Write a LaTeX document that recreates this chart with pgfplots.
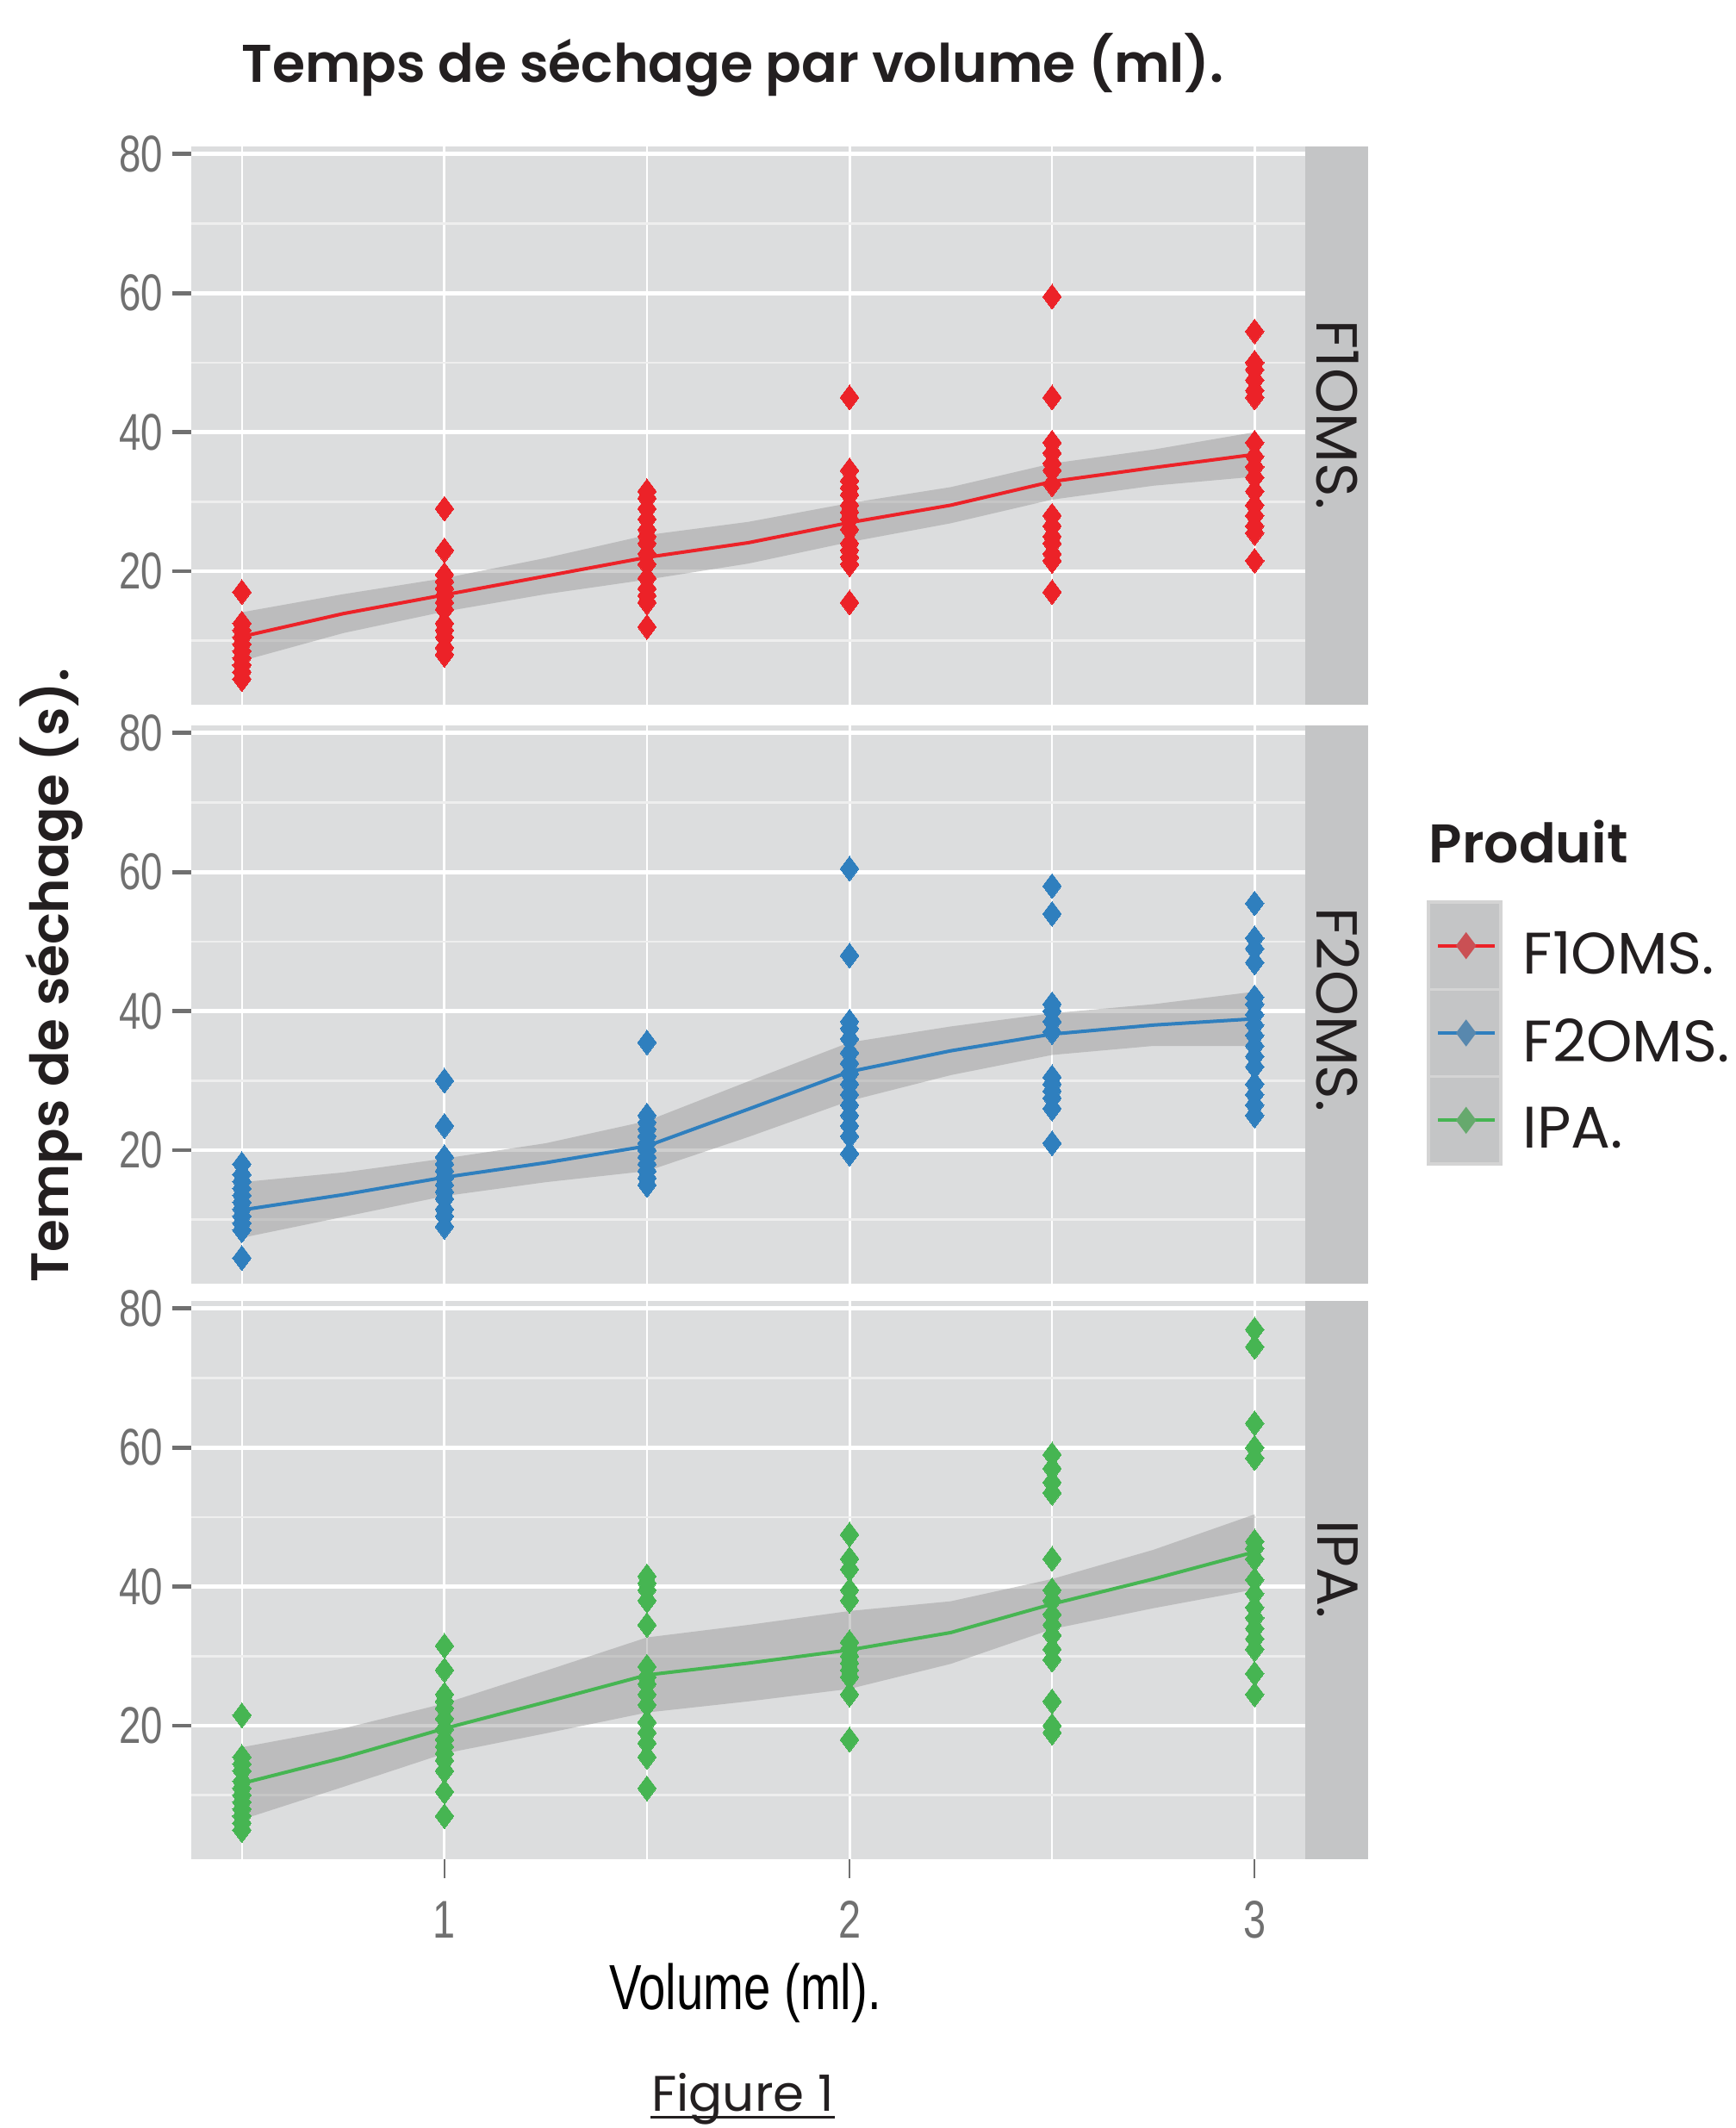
\documentclass[border=0pt]{standalone}
\usepackage{fontspec}
\setmainfont{Poppins}[BoldFont={Poppins SemiBold}]
\newfontfamily\narrowfont[FakeStretch=0.76]{Liberation Sans}
\usepackage{pgfplots}
\pgfplotsset{compat=1.18}
\definecolor{panelbg}{RGB}{220,221,222}
\definecolor{stripbg}{RGB}{196,197,198}
\definecolor{minorgrid}{RGB}{238,238,238}
\definecolor{tickgray}{RGB}{112,112,112}
\definecolor{bandgray}{RGB}{150,150,150}
\definecolor{legedge}{RGB}{212,212,212}
\definecolor{cF1}{RGB}{236,34,40}
\definecolor{cF2}{RGB}{47,127,190}
\definecolor{cIPA}{RGB}{70,181,82}
\definecolor{txt}{RGB}{35,31,32}

\tikzset{striplab/.style={rotate=-90, font=\fontsize{16.8}{16}\selectfont, text=txt, inner sep=0pt}}

\pgfplotsset{
  panel/.style={
    scale only axis, width=323.25pt, height=162pt,
    anchor=north west,
    xmin=0.375, xmax=3.125, ymin=0.8, ymax=81.1,
    axis background/.style={fill=panelbg},
    axis line style={draw=none},
    xtick={1,2,3}, minor xtick={0.5,1.5,2.5},
    ytick={20,40,60,80}, minor ytick={10,30,50,70},
    yticklabels={20,40,60,80},
    xmajorgrids, xminorgrids, ymajorgrids, yminorgrids,
    major x grid style={white, line width=0.75pt},
    minor x grid style={white, line width=0.55pt},
    major y grid style={white, line width=1.2pt},
    minor y grid style={minorgrid, line width=0.7pt},
    tick align=outside, ytick pos=left, xtick pos=bottom,
    major tick length=5.5pt, minor tick length=0pt,
    ytick style={tickgray, line width=1.2pt},
    yticklabel style={font=\narrowfont\fontsize{15}{15}\selectfont, text=tickgray, anchor=east, inner sep=0pt, xshift=-2.5pt},
    clip=false,
  },
  mypts/.style={only marks, mark=diamond*, mark size=3.6pt, color=#1, mark options={fill=#1, draw=#1, line width=0pt}},
  myband/.style={draw=none, fill=bandgray, fill opacity=0.45},
  myfit/.style={color=#1, line width=1pt},
}

\begin{document}
\begin{tikzpicture}
\useasboundingbox (0,0) rectangle (503.5pt,-617.5pt);

% ---------------- Panel 1 : F1OMS.
\begin{axis}[panel, at={(55.5pt,-42.5pt)}, xticklabels={}, xtick style={draw=none}]
\addplot[mypts=cF1] coordinates {
(0.5,17) (0.5,12.5) (0.5,11.5) (0.5,10.5) (0.5,9.5) (0.5,8.5) (0.5,7.5) (0.5,6.5) (0.5,5.5) (0.5,4.5)
(1,29) (1,23) (1,19.5) (1,18.5) (1,17.5) (1,16.5) (1,15.5) (1,14.5) (1,12.5) (1,11.5) (1,10.5) (1,9) (1,8)
(1.5,31.5) (1.5,30.5) (1.5,29) (1.5,27.5) (1.5,26) (1.5,25) (1.5,24) (1.5,22.5) (1.5,21) (1.5,19) (1.5,17.5) (1.5,16.5) (1.5,15.5) (1.5,12)
(2,45) (2,34.5) (2,33) (2,32) (2,31) (2,29.5) (2,28.5) (2,27.5) (2,26) (2,24) (2,23) (2,22) (2,21) (2,15.5)
(2.5,59.5) (2.5,45) (2.5,38.5) (2.5,37) (2.5,35.5) (2.5,34.5) (2.5,32.5) (2.5,28) (2.5,26.5) (2.5,25) (2.5,24) (2.5,22.5) (2.5,21.5) (2.5,17)
(3,54.5) (3,50) (3,49) (3,47.5) (3,46) (3,45) (3,38.5) (3,36.5) (3,35) (3,33.5) (3,31.5) (3,29.5) (3,28) (3,26.5) (3,25.5) (3,21.5)
};
\addplot[myband] coordinates {(0.5,14.1) (0.75,16.7) (1,19.0) (1.25,21.9) (1.5,25.2) (1.75,27.1) (2,29.8) (2.25,32.1) (2.5,35.5) (2.75,37.5) (3,40.0)
 (3,33.6) (2.75,32.3) (2.5,30.3) (2.25,26.9) (2,24.2) (1.75,21.1) (1.5,18.8) (1.25,16.7) (1,14.2) (0.75,11.1) (0.5,7.1)} -- cycle;
\addplot[myfit=cF1] coordinates {(0.5,10.6) (0.75,13.9) (1,16.6) (1.25,19.3) (1.5,22.0) (1.75,24.1) (2,27.0) (2.25,29.5) (2.5,32.9) (2.75,34.9) (3,36.8)};
\fill[stripbg] (axis cs:3.125,0.8) rectangle ([xshift=18.25pt]axis cs:3.125,81.1);
\node[striplab] at ([xshift=9.4pt]axis cs:3.125,42.5) {F1OMS.};
\end{axis}

% ---------------- Panel 2 : F2OMS.
\begin{axis}[panel, at={(55.5pt,-210.5pt)}, xticklabels={}, xtick style={draw=none}]
\addplot[mypts=cF2] coordinates {
(0.5,18) (0.5,16.5) (0.5,15.5) (0.5,14.5) (0.5,13.5) (0.5,12.5) (0.5,11.5) (0.5,10.5) (0.5,9.5) (0.5,8.5) (0.5,4.5)
(1,30) (1,23.5) (1,19) (1,18) (1,17) (1,16) (1,15) (1,14) (1,13) (1,11.5) (1,10.5) (1,9)
(1.5,35.5) (1.5,25) (1.5,24) (1.5,23) (1.5,22) (1.5,21) (1.5,20) (1.5,19) (1.5,18) (1.5,17) (1.5,16) (1.5,15)
(2,60.5) (2,48) (2,38.5) (2,37.5) (2,36) (2,34) (2,32.5) (2,31) (2,29.5) (2,28) (2,26.5) (2,25) (2,23.5) (2,22) (2,19.5)
(2.5,58) (2.5,54) (2.5,41) (2.5,40) (2.5,38.5) (2.5,37) (2.5,30.5) (2.5,29.5) (2.5,28.5) (2.5,27.5) (2.5,26) (2.5,21)
(3,55.5) (3,50.5) (3,49) (3,47) (3,42) (3,41) (3,39.5) (3,38) (3,36.5) (3,35) (3,33.5) (3,32) (3,29.5) (3,28) (3,26.5) (3,25)
};
\addplot[myband] coordinates {(0.5,15.4) (0.75,16.8) (1,18.8) (1.25,21.0) (1.5,24.2) (1.75,29.9) (2,35.5) (2.25,37.8) (2.5,39.7) (2.75,41.0) (3,42.8)
 (3,35.0) (2.75,35.0) (2.5,33.7) (2.25,30.8) (2,27.1) (1.75,21.9) (1.5,17.0) (1.25,15.4) (1,13.4) (0.75,10.4) (0.5,7.4)} -- cycle;
\addplot[myfit=cF2] coordinates {(0.5,11.4) (0.75,13.6) (1,16.1) (1.25,18.2) (1.5,20.6) (1.75,25.9) (2,31.3) (2.25,34.3) (2.5,36.7) (2.75,38.0) (3,38.9)};
\fill[stripbg] (axis cs:3.125,0.8) rectangle ([xshift=18.25pt]axis cs:3.125,81.1);
\node[striplab] at ([xshift=9.4pt]axis cs:3.125,40.2) {F2OMS.};
\end{axis}

% ---------------- Panel 3 : IPA.
\begin{axis}[panel, at={(55.5pt,-377.5pt)}, xticklabels={1,2,3},
  xtick style={tickgray, line width=0.6pt},
  xticklabel style={font=\narrowfont\fontsize{15.4}{15}\selectfont, text=tickgray, anchor=north, inner sep=0pt, yshift=-6.5pt}]
\addplot[mypts=cIPA] coordinates {
(0.5,21.5) (0.5,15.5) (0.5,14.5) (0.5,13.5) (0.5,12) (0.5,11) (0.5,10) (0.5,9) (0.5,8) (0.5,7) (0.5,6) (0.5,5)
(1,31.5) (1,28) (1,24.5) (1,23.5) (1,22.5) (1,21) (1,19.5) (1,18) (1,17) (1,16) (1,15) (1,13.5) (1,10.5) (1,7)
(1.5,41.5) (1.5,40.5) (1.5,39.5) (1.5,38) (1.5,34.5) (1.5,28.5) (1.5,27) (1.5,26) (1.5,24.5) (1.5,23) (1.5,20.5) (1.5,19) (1.5,17.5) (1.5,15.5) (1.5,11)
(2,47.5) (2,44) (2,42.5) (2,39.5) (2,38) (2,32) (2,31) (2,30) (2,29) (2,28) (2,27) (2,24.5) (2,18)
(2.5,59) (2.5,57) (2.5,55) (2.5,53.5) (2.5,44) (2.5,39.5) (2.5,38) (2.5,36) (2.5,34.5) (2.5,33) (2.5,31) (2.5,29.5) (2.5,23.5) (2.5,20) (2.5,19)
(3,77) (3,74.5) (3,63.5) (3,60) (3,58.5) (3,46.5) (3,45.5) (3,44) (3,41) (3,39) (3,37) (3,35.5) (3,34) (3,32.5) (3,31) (3,27.5) (3,24.5)
};
\addplot[myband] coordinates {(0.5,16.9) (0.75,19.6) (1,23.2) (1.25,27.9) (1.5,32.7) (1.75,34.5) (2,36.5) (2.25,37.9) (2.5,41.1) (2.75,45.3) (3,50.4)
 (3,39.6) (2.75,36.9) (2.5,33.9) (2.25,28.9) (2,25.3) (1.75,23.5) (1.5,21.9) (1.25,18.9) (1,16.0) (0.75,11.2) (0.5,6.5)} -- cycle;
\addplot[myfit=cIPA] coordinates {(0.5,11.7) (0.75,15.4) (1,19.6) (1.25,23.4) (1.5,27.3) (1.75,29.0) (2,30.9) (2.25,33.4) (2.5,37.5) (2.75,41.1) (3,45.0)};
\fill[stripbg] (axis cs:3.125,0.8) rectangle ([xshift=18.25pt]axis cs:3.125,81.1);
\node[striplab] at ([xshift=9.4pt]axis cs:3.125,42.5) {IPA.};
\end{axis}

% ---------------- Legend
\begin{axis}[at={(414.5pt,-261.75pt)}, anchor=north west, scale only axis,
  width=21pt, height=76pt, xmin=0, xmax=1, ymin=0.5, ymax=3.5,
  axis background/.style={fill=stripbg},
  axis line style={draw=legedge, line width=0.8pt},
  xtick=\empty, ytick={1,2,3}, yticklabels={IPA., F2OMS., F1OMS.},
  yticklabel pos=right, ytick style={draw=none},
  minor ytick={1.5,2.5}, yminorgrids, minor y grid style={legedge, line width=0.8pt},
  minor tick length=0pt,
  yticklabel style={anchor=west, inner sep=0pt, xshift=6.25pt, yshift=-2.2pt, font=\fontsize{17}{16}\selectfont, text=txt},
  title={Produit}, title style={anchor=base west, at={(0,1)}, inner sep=0pt, yshift=5.5pt, font=\bfseries\fontsize{15.8}{15}\selectfont, text=txt},
  clip=false]
\addplot[only marks, mark=diamond*, mark size=3.6pt, color=cF1!60!bandgray] coordinates {(0.52,3)};
\addplot[only marks, mark=diamond*, mark size=3.6pt, color=cF2!60!bandgray] coordinates {(0.52,2)};
\addplot[only marks, mark=diamond*, mark size=3.6pt, color=cIPA!60!bandgray] coordinates {(0.52,1)};
\addplot[cF1, line width=1pt] coordinates {(0.13,3) (0.92,3)};
\addplot[cF2, line width=1pt] coordinates {(0.13,2) (0.92,2)};
\addplot[cIPA, line width=1pt] coordinates {(0.13,1) (0.92,1)};
\end{axis}

% ---------------- Titles and labels
\node[anchor=base west, inner sep=0pt, font=\bfseries\fontsize{15.4}{15}\selectfont, text=txt] at (70pt,-24pt) {Temps de séchage par volume (ml).};
\node[rotate=90, inner sep=0pt, font=\bfseries\fontsize{15.3}{15}\selectfont, text=txt] at (15pt,-283pt) {Temps de séchage (s).};
\node[anchor=base, inner sep=0pt, font=\narrowfont\fontsize{18.5}{18}\selectfont] at (216.25pt,-583pt) {Volume (ml).};
\node (fig) [anchor=base, inner sep=0pt, font=\fontsize{14.5}{14}\selectfont, text=txt] at (215.5pt,-612.5pt) {Figure 1};
\draw[txt, line width=0.8pt] ([yshift=-1.8pt]fig.base west) -- ([yshift=-1.8pt]fig.base east);
\end{tikzpicture}
\end{document}
